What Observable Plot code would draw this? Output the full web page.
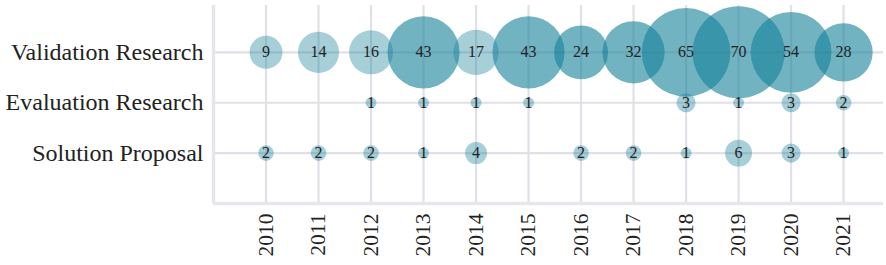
<!DOCTYPE html>
<html><head><meta charset="utf-8">
<script src="https://cdn.jsdelivr.net/npm/d3@7"></script>
<script src="https://cdn.jsdelivr.net/npm/@observablehq/plot@0.6"></script>
<style>body{margin:0;background:#fff}</style>
</head><body><div id="chart"></div>
<script>
const years = [2010, 2011, 2012, 2013, 2014, 2015, 2016, 2017, 2018, 2019, 2020, 2021];
const categories = ["Validation Research", "Evaluation Research", "Solution Proposal"];
const validationResearch = [9, 14, 16, 43, 17, 43, 24, 32, 65, 70, 54, 28];
const evaluationResearch = [null, null, 1, 1, 1, 1, null, null, 3, 1, 3, 2];
const solutionProposal = [2, 2, 2, 1, 4, null, 2, 2, 1, 6, 3, 1];

const series = [validationResearch, evaluationResearch, solutionProposal];
const data = [];
categories.forEach((c, i) => years.forEach((yr, j) => {
  const v = series[i][j];
  if (v != null) data.push({year: yr, category: c, level: categories.length - i, value: v});
}));

const gridColor = "#e0e0e8";
const font = "'Liberation Serif', 'Times New Roman', serif";
const chart = Plot.plot({
  width: 886, height: 265,
  marginLeft: 213, marginRight: 3, marginTop: 5, marginBottom: 62,
  style: {fontFamily: font, background: "#fff", color: "#222"},
  x: {domain: [2009, 2021.76], label: null},
  y: {domain: [0, 3.93], label: null},
  r: {domain: [0, 70], range: [0, 46]},
  marks: [
    Plot.gridX(years, {stroke: gridColor, strokeOpacity: 1, strokeWidth: 2.2}),
    Plot.gridY([1, 2, 3], {stroke: gridColor, strokeOpacity: 1, strokeWidth: 2.2}),
    Plot.ruleX([2009], {stroke: "#e6e6ec", strokeWidth: 3.5}),
    Plot.ruleY([0], {stroke: "#e6e6ec", strokeWidth: 3.5}),
    Plot.axisX(years, {tickSize: 0, tickPadding: 10, tickRotate: -90, fontSize: 21.5, tickFormat: d => String(d), fill: "#222"}),
    Plot.axisY([1, 2, 3], {tickSize: 0, tickPadding: 10, fontSize: 24, tickFormat: d => categories[categories.length - d], fill: "#222"}),
    Plot.dot(data, {filter: d => d.value < 20, x: "year", y: "level", r: "value", fill: "#148099", fillOpacity: 0.38, stroke: "none"}),
    Plot.dot(data, {filter: d => d.value >= 20, x: "year", y: "level", r: "value", fill: "#148099", fillOpacity: 0.6, stroke: "none"}),
    Plot.text(data, {x: "year", y: "level", text: d => String(d.value), fontSize: 16, fill: "#222", fontFamily: font})
  ]
});
document.getElementById("chart").appendChild(chart);
</script>
</body></html>
